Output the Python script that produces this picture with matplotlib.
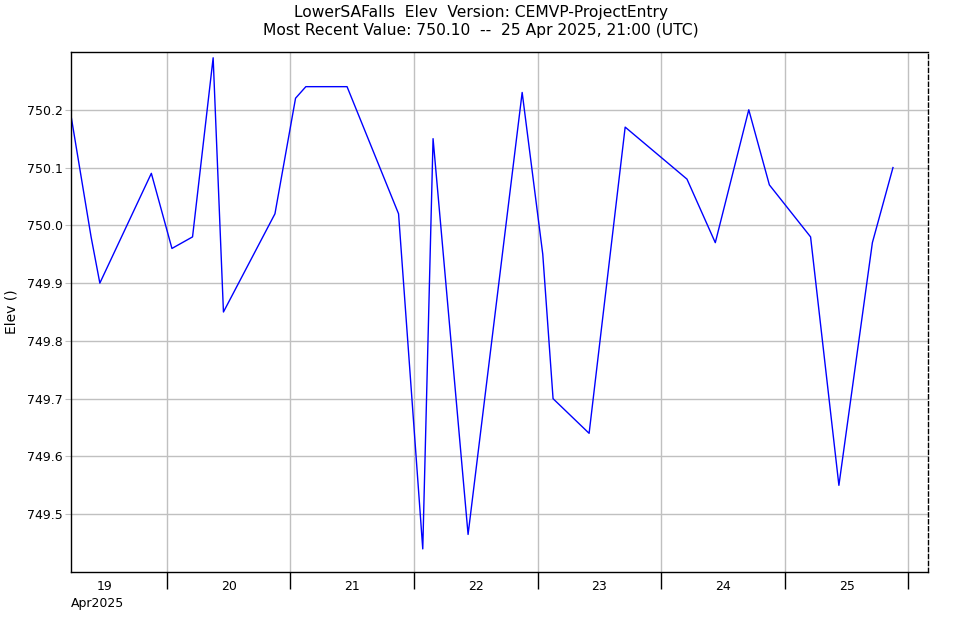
import matplotlib
matplotlib.use("Agg")
import matplotlib.pyplot as plt
from matplotlib.ticker import FixedLocator, NullFormatter

# hours since 19 Apr 2025 00:00 (UTC)
hours = [5.4, 9.3, 11, 21, 25, 29, 33, 35, 45, 49, 51, 59, 69, 73.7, 75.7,
         82.5, 93, 97, 99, 106, 113, 125, 130.5, 137, 141, 149, 154.5, 161, 165]
elev = [750.19, 749.98, 749.90, 750.09, 749.96, 749.98, 750.29, 749.85, 750.02,
        750.22, 750.24, 750.24, 750.02, 749.44, 750.15, 749.465, 750.23, 749.95,
        749.70, 749.64, 750.17, 750.08, 749.97, 750.20, 750.07, 749.98, 749.55,
        749.97, 750.10]

day_labels = ["19", "20", "21", "22", "23", "24", "25"]
y_ticks = [749.5, 749.6, 749.7, 749.8, 749.9, 750.0, 750.1, 750.2]

fig = plt.figure(figsize=(9.61, 6.2), dpi=100)
ax = fig.add_axes([71 / 961, 1 - 572 / 620, (928 - 71) / 961, (572 - 52) / 620])

ax.plot(hours, elev, color="#0000ff", linewidth=1.0)

ax.set_xlim(hours[0], 171.8)
ax.set_ylim(749.40, 750.30)

# day boundaries: gridlines + long ticks; labels at noon
ax.xaxis.set_major_locator(FixedLocator([24 * i for i in range(1, 8)]))
ax.xaxis.set_major_formatter(NullFormatter())
ax.xaxis.set_minor_locator(FixedLocator([12 + 24 * i for i in range(len(day_labels))]))
ax.set_xticklabels(day_labels, minor=True)
ax.tick_params(axis="x", which="major", direction="out", length=12, width=1, color="black")
ax.tick_params(axis="x", which="minor", length=0, pad=6, labelsize=9)

ax.set_yticks(y_ticks)
ax.set_yticklabels([f"{v:.1f}" for v in y_ticks])
ax.tick_params(axis="y", direction="out", length=4, color="#c0c0c0", labelsize=9, pad=2)

ax.grid(True, which="major", color="#c0c0c0", linewidth=1)
ax.set_axisbelow(True)

for s in ax.spines.values():
    s.set_linewidth(1.0)
ax.spines["right"].set_linestyle((0, (3, 2)))

ax.set_ylabel("Elev ()", fontsize=10, labelpad=6)

fig.text(0.5, 1 - 12 / 620, "LowerSAFalls  Elev  Version: CEMVP-ProjectEntry",
         ha="center", va="center", fontsize=11.2)
fig.text(0.5, 1 - 31 / 620, "Most Recent Value: 750.10  --  25 Apr 2025, 21:00 (UTC)",
         ha="center", va="center", fontsize=11.2)
fig.text(71 / 961, 1 - 603 / 620, "Apr2025", ha="left", va="center", fontsize=9)

fig.savefig("out.png", dpi=100)
